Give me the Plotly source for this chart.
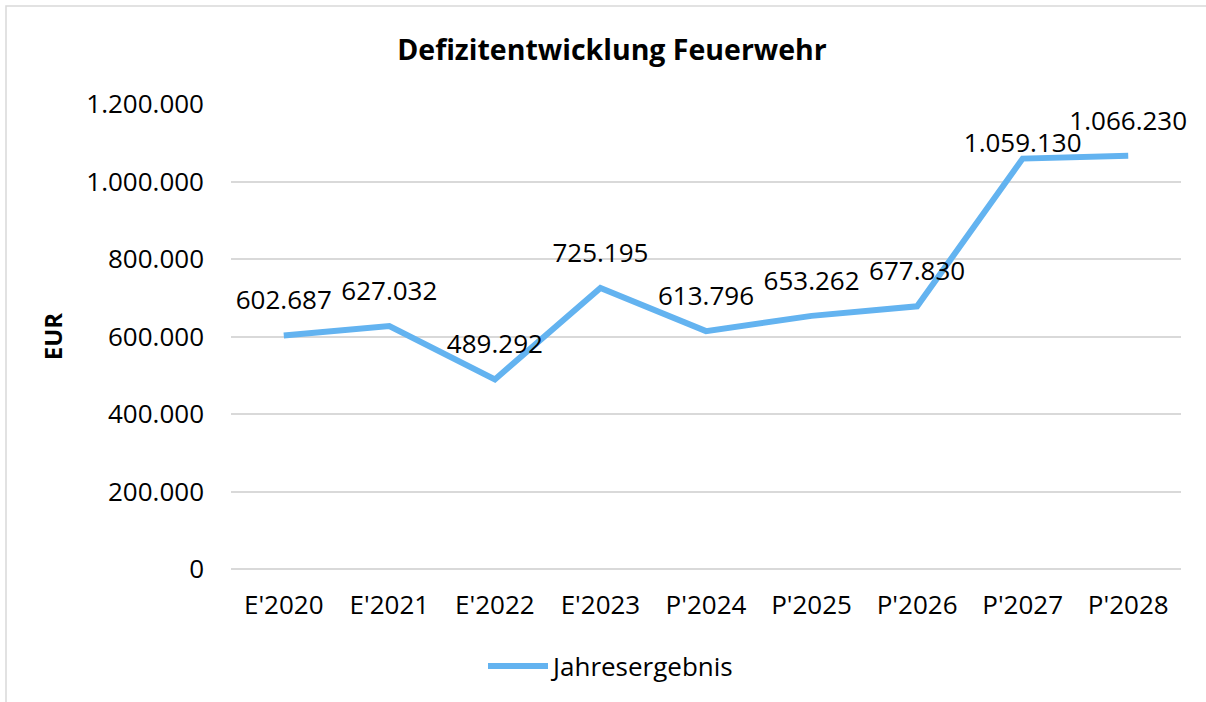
import plotly.graph_objects as go

# Deficit of the fire brigade (E = actual result, P = planned)
categories = ["E'2020", "E'2021", "E'2022", "E'2023", "P'2024",
              "P'2025", "P'2026", "P'2027", "P'2028"]
jahresergebnis = [602687, 627032, 489292, 725195, 613796,
                  653262, 677830, 1059130, 1066230]
y_ticks = [0, 200000, 400000, 600000, 800000, 1000000, 1200000]

FONT = "Open Sans"
LINE_COLOR = "#63B3F0"
GRID_COLOR = "#D9D9D9"

W, H = 1206, 702
ML, MR, MT, MB = 231, 25, 104, 133
PW, PH = W - ML - MR, H - MT - MB

# label spacing per point; the P'2027 label sits closer to its point
label_gap = [30] * len(categories)
label_gap[7] = 0

fig = go.Figure()
fig.add_trace(go.Scatter(
    x=categories,
    y=jahresergebnis,
    name="Jahresergebnis",
    mode="lines",
    line=dict(color=LINE_COLOR, width=6),
    cliponaxis=False,
))
# value labels above the points
fig.add_trace(go.Scatter(
    x=categories,
    y=jahresergebnis,
    mode="markers+text",
    marker=dict(size=label_gap, opacity=0, color=LINE_COLOR),
    texttemplate="%{y:,}",
    textposition="top center",
    textfont=dict(family=FONT, size=26, color="#000000"),
    cliponaxis=False,
    showlegend=False,
    hoverinfo="skip",
))


def px_to_paper(px, py):
    return (px - ML) / PW, (H - MB - py) / PH


# thin frame around the chart area
x0, y1 = px_to_paper(6, 6)
x1, y0 = px_to_paper(W + 10, H + 10)
fig.add_shape(type="rect", xref="paper", yref="paper",
              x0=x0, x1=x1, y0=y0, y1=y1,
              line=dict(color=GRID_COLOR, width=1.5), layer="below")

fig.update_layout(
    width=W, height=H,
    margin=dict(l=ML, r=MR, t=MT, b=MB),
    paper_bgcolor="white",
    plot_bgcolor="white",
    separators=",.",
    font=dict(family=FONT, size=26, color="#000000"),
    title=dict(
        text="<b>Defizitentwicklung Feuerwehr</b>",
        font=dict(family=FONT, size=28.5, color="#000000"),
        xref="container", yref="container",
        x=612 / W, y=1 - 50 / H, xanchor="center", yanchor="middle",
    ),
    xaxis=dict(
        type="category",
        range=[-0.5, len(categories) - 0.5],
        showgrid=False, showline=False, zeroline=False,
        ticks="", ticklabelstandoff=18,
        tickfont=dict(family=FONT, size=26, color="#000000"),
    ),
    yaxis=dict(
        range=[0, 1200000],
        tickvals=y_ticks,
        tickformat=",",
        showgrid=True, gridcolor=GRID_COLOR, gridwidth=1.5,
        zeroline=True, zerolinecolor=GRID_COLOR, zerolinewidth=1.5,
        showline=False, ticks="", ticklabelstandoff=26,
        tickfont=dict(family=FONT, size=26, color="#000000"),
        title=dict(text="<b>EUR</b>", standoff=16,
                   font=dict(family=FONT, size=24, color="#000000")),
    ),
    showlegend=True,
    legend=dict(
        orientation="h",
        xref="container", yref="container",
        x=612 / W, y=1 - 666 / H, xanchor="center", yanchor="middle",
        font=dict(family=FONT, size=26, color="#000000"),
        itemwidth=60,
    ),
)

fig.write_html("out.html")
